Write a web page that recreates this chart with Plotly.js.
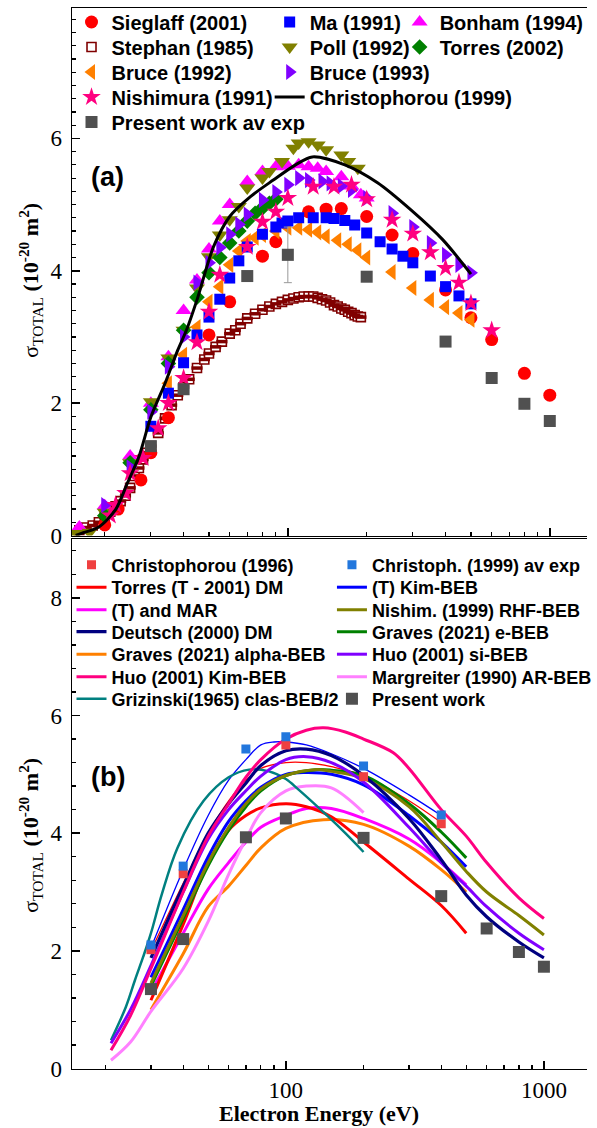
<!DOCTYPE html>
<html><head><meta charset="utf-8">
<script src="https://cdn.plot.ly/plotly-3.0.1.min.js"></script>
<style>html,body{margin:0;padding:0;background:#fff}#chart{width:597px;height:1128px}</style>
</head><body><div id="chart"></div>
<script>
// ================= Panel (a) data =================
const siegE = [20, 22.5, 27.5, 30, 35, 50, 60, 80, 90, 120, 140, 160, 200, 250, 300, 400, 500, 600, 800, 1000];
const siegS = [0.16, 0.40, 0.84, 1.25, 1.78, 3.03, 3.53, 4.22, 4.44, 4.89, 4.93, 4.94, 4.82, 4.54, 4.26, 3.71, 3.29, 2.96, 2.45, 2.12];

const maE = [30, 35, 40, 45, 50, 55, 60, 65, 70, 80, 90, 95, 100, 110, 125, 140, 150, 165, 180, 200, 225, 250, 275, 300, 350, 400, 450, 500];
const maS = [1.65, 2.15, 2.61, 3.03, 3.30, 3.57, 3.89, 4.15, 4.36, 4.55, 4.66, 4.72, 4.75, 4.80, 4.80, 4.80, 4.79, 4.76, 4.69, 4.57, 4.44, 4.33, 4.22, 4.12, 3.92, 3.76, 3.62, 3.50];

const bonhamE = [16, 20, 25, 30, 35, 40, 45, 50, 55, 60, 70, 80, 90, 100, 110, 120, 130, 140, 160, 175, 190, 200];
const bonhamS = [0.13, 0.45, 1.20, 2.00, 2.70, 3.40, 3.86, 4.33, 4.75, 5.00, 5.35, 5.50, 5.57, 5.58, 5.60, 5.57, 5.55, 5.50, 5.42, 5.28, 5.15, 5.10];

const stephanE = [16, 17, 18, 19, 20, 21, 22, 23, 24, 25, 26, 27, 28, 29, 30, 32, 34, 36, 38, 40, 42, 45, 48, 50, 53, 56, 60, 63, 66, 70, 75, 80, 85, 90, 95, 100, 105, 110, 115, 120, 125, 130, 135, 140, 145, 150, 155, 160, 165, 170, 175, 180, 185, 190];
const stephanS = [0.08, 0.12, 0.15, 0.20, 0.28, 0.36, 0.44, 0.52, 0.60, 0.72, 0.90, 1.02, 1.15, 1.25, 1.35, 1.55, 1.77, 1.97, 2.12, 2.24, 2.36, 2.53, 2.66, 2.75, 2.85, 2.93, 3.05, 3.10, 3.20, 3.28, 3.35, 3.41, 3.46, 3.50, 3.53, 3.56, 3.58, 3.60, 3.61, 3.61, 3.61, 3.59, 3.57, 3.55, 3.52, 3.48, 3.46, 3.43, 3.41, 3.38, 3.36, 3.33, 3.31, 3.30];

const pollE = [15.5, 17.5, 20, 25, 30, 35, 40, 45, 50, 55, 60, 65, 70, 80, 85, 95, 105, 110, 120, 130, 140, 160, 170, 185];
const pollS = [0.03, 0.05, 0.35, 1.10, 2.02, 2.68, 3.10, 3.74, 4.21, 4.54, 4.77, 4.97, 5.25, 5.40, 5.50, 5.65, 5.85, 5.93, 5.95, 5.90, 5.83, 5.75, 5.65, 5.55];

const torresE = [20, 25, 30, 35, 40, 45, 50, 55, 60, 65, 70, 75, 80, 85, 90];
const torresS = [0.30, 1.10, 1.90, 2.60, 3.10, 3.60, 3.97, 4.20, 4.42, 4.60, 4.75, 4.87, 4.95, 5.02, 5.08];

const bruce92E = [35, 40, 45, 50, 55, 60, 65, 70, 75, 80, 90, 100, 110, 120, 130, 140, 155, 170, 185, 200, 250, 300, 350, 400, 450, 500];
const bruce92S = [2.30, 2.73, 3.15, 3.53, 3.76, 4.09, 4.30, 4.45, 4.50, 4.54, 4.60, 4.65, 4.65, 4.62, 4.58, 4.52, 4.46, 4.40, 4.31, 4.20, 3.98, 3.74, 3.56, 3.45, 3.36, 3.26];

const bruce93E = [20, 25, 30, 35, 40, 45, 50, 55, 60, 65, 70, 80, 90, 100, 110, 120, 135, 145, 160, 175, 200, 250, 300, 350, 400, 450, 500];
const bruce93S = [0.46, 1.03, 1.87, 2.55, 3.00, 3.82, 4.12, 4.35, 4.55, 4.70, 4.85, 5.07, 5.19, 5.30, 5.40, 5.37, 5.35, 5.32, 5.28, 5.22, 5.10, 4.87, 4.66, 4.42, 4.24, 4.09, 3.97];

const nishE = [21, 22, 24, 25, 28, 32, 35, 40, 45, 50, 55, 70, 80, 90, 100, 125, 150, 175, 200, 250, 300, 350, 400, 450, 500, 600];
const nishS = [0.30, 0.46, 0.64, 0.94, 1.17, 1.62, 2.00, 2.38, 2.92, 3.38, 3.94, 4.36, 4.74, 4.89, 5.10, 5.27, 5.27, 5.30, 5.08, 4.77, 4.56, 4.28, 4.04, 3.82, 3.51, 3.10];

const chr99E = [15.5, 16.5, 19, 22, 24.4, 27, 30, 34, 38, 41, 45, 52, 60, 72, 88, 107, 124, 165, 220, 295, 390, 500];
const chr99S = [0.00, 0.04, 0.13, 0.39, 0.79, 1.19, 1.79, 2.30, 2.80, 3.10, 3.56, 4.36, 4.82, 5.12, 5.37, 5.60, 5.72, 5.60, 5.33, 4.92, 4.47, 3.95];

const presE = [30, 40, 70, 100, 200, 400, 600, 800, 1000];
const presS = [1.35, 2.21, 3.92, 4.24, 3.91, 2.93, 2.38, 1.99, 1.73];
const presErr = [0, 0, 0, 0.42, 0, 0, 0, 0, 0];

// ================= Panel (b) data =================
const chr96E = [30, 40, 100, 200, 400];
const chr96S = [2.02, 3.31, 5.50, 4.96, 4.16];
const chr96FitE = [30, 40, 50, 60, 70, 80, 100, 120, 150, 200, 300, 400];
const chr96FitS = [2.00, 3.15, 4.00, 4.55, 4.90, 5.10, 5.20, 5.20, 5.13, 4.98, 4.55, 4.18];

const chrAvE = [30, 40, 70, 100, 200, 400];
const chrAvS = [2.10, 3.44, 5.43, 5.64, 5.14, 4.31];
const chrAvFitE = [30, 40, 50, 60, 70, 80, 90, 100, 120, 150, 200, 300, 400];
const chrAvFitS = [2.05, 3.38, 4.30, 4.90, 5.25, 5.50, 5.55, 5.55, 5.50, 5.35, 5.10, 4.65, 4.30];

const torresDmE = [30, 40, 50, 60, 70, 80, 100, 120, 150, 200, 300, 400, 500];
const torresDmS = [1.16, 2.45, 3.50, 4.05, 4.30, 4.43, 4.50, 4.45, 4.28, 3.85, 3.22, 2.77, 2.30];

const kimBebE = [30, 40, 50, 60, 70, 80, 100, 120, 150, 200, 300, 400, 500];
const kimBebS = [1.55, 2.70, 3.60, 4.20, 4.55, 4.78, 5.00, 5.03, 5.00, 4.82, 4.30, 3.85, 3.43];

const marE = [30, 40, 50, 60, 70, 80, 100, 120, 150, 200, 300, 400, 500];
const marS = [1.30, 2.30, 3.05, 3.50, 3.85, 4.10, 4.30, 4.42, 4.42, 4.25, 3.90, 3.50, 3.12];

const nishRhfE = [30, 40, 50, 60, 70, 80, 100, 130, 150, 200, 300, 400, 500, 600, 800, 1000];
const nishRhfS = [1.45, 2.60, 3.50, 4.10, 4.50, 4.75, 4.98, 5.08, 5.05, 4.93, 4.45, 3.85, 3.35, 3.00, 2.60, 2.27];

const deutschE = [30, 40, 50, 60, 70, 80, 100, 120, 150, 200, 300, 400, 500, 600, 800, 1000];
const deutschS = [1.88, 3.10, 4.00, 4.50, 4.85, 5.15, 5.40, 5.43, 5.32, 4.98, 4.25, 3.55, 2.95, 2.58, 2.15, 1.88];

const gravesEE = [30, 40, 50, 60, 70, 80, 100, 130, 150, 200, 300, 400, 500];
const gravesES = [1.40, 2.55, 3.45, 4.05, 4.45, 4.72, 4.98, 5.08, 5.07, 4.98, 4.50, 4.02, 3.58];

const gravesAE = [30, 40, 50, 60, 70, 80, 100, 140, 200, 300, 400, 500];
const gravesAS = [1.00, 1.95, 2.75, 3.10, 3.45, 3.75, 4.08, 4.23, 4.15, 3.78, 3.38, 3.00];

const huoSiE = [21, 25, 30, 40, 50, 60, 70, 80, 100, 120, 150, 200, 300, 400, 500, 600, 800, 1000];
const huoSiS = [0.43, 1.00, 1.75, 3.00, 3.90, 4.40, 4.72, 4.97, 5.25, 5.30, 5.20, 4.87, 4.10, 3.50, 3.10, 2.75, 2.30, 2.02];

const huoKimE = [21, 25, 30, 40, 50, 60, 70, 80, 100, 120, 140, 170, 200, 260, 300, 400, 500, 600, 800, 1000];
const huoKimS = [0.31, 0.90, 1.70, 3.00, 3.95, 4.50, 4.95, 5.25, 5.60, 5.75, 5.79, 5.72, 5.60, 5.37, 5.10, 4.40, 3.95, 3.50, 2.90, 2.55];

const margE = [21, 25, 30, 40, 50, 60, 70, 80, 100, 120, 150, 200];
const margS = [0.14, 0.45, 0.97, 1.70, 2.50, 3.30, 3.90, 4.35, 4.72, 4.80, 4.77, 4.35];

const grizE = [21, 24, 26, 28, 30, 33, 38, 48, 60, 72, 86, 100, 112, 146, 170, 200];
const grizS = [0.48, 1.05, 1.50, 1.90, 2.30, 2.95, 3.75, 4.55, 4.95, 5.08, 5.05, 4.92, 4.74, 4.28, 4.00, 3.68];

const presBE = [30, 40, 70, 100, 200, 400, 600, 800, 1000];
const presBS = [1.35, 2.20, 3.93, 4.25, 3.92, 2.93, 2.38, 1.98, 1.73];

// ================= geometry helpers =================
const W = 597, H = 1128, ML = 72;
const px2x = p => (p - ML) / (W - ML);
const px2y = p => (H - p) / H;

const traces = [];
const legends = {};
let legendCount = 0;
function legendFor(textX, rowY, size) {
  legendCount++;
  const id = legendCount === 1 ? 'legend' : 'legend' + legendCount;
  legends[id] = {
    x: px2x(textX - 40), xanchor: 'left', xref: 'paper',
    y: px2y(rowY), yanchor: 'middle', yref: 'paper',
    bgcolor: 'rgba(0,0,0,0)', borderwidth: 0,
    font: {family: 'Liberation Sans, Arial, sans-serif', size: size, color: '#000', weight: 'bold'}
  };
  return id;
}

// ----- Panel (a) traces -----
const A = {xaxis: 'x', yaxis: 'y'};
const topFont = 20;
const C1 = 111.5, C2 = 313.5, C3 = 446;
const R = [22, 47, 72, 97, 122];

function mk(name, E, S, marker, lx, ly, extra) {
  const t = Object.assign({type: 'scatter', mode: 'markers', name: name, x: E, y: S,
    marker: marker, legend: legendFor(lx, ly, topFont)}, A, extra || {});
  traces.push(t);
}
mk('Stephan (1985)', stephanE, stephanS, {symbol: 'square', size: 9, color: '#ffffff', line: {color: '#800000', width: 1.6}}, C1, R[1]);
// dark upper band of the half-filled Stephan symbols (same points, no legend entry)
traces.push(Object.assign({type: 'scatter', mode: 'markers', x: stephanE, y: stephanS, showlegend: false,
  marker: {symbol: 'line-ew', size: 8, line: {color: '#800000', width: 3.5}}}, A));
mk('Sieglaff (2001)', siegE, siegS, {symbol: 'circle', size: 13, color: '#ff0000'}, C1, R[0]);
mk('Bonham (1994)', bonhamE, bonhamS, {symbol: 'triangle-up', size: 14, color: '#ff00ff'}, C3, R[0]);
mk('Poll (1992)', pollE, pollS, {symbol: 'triangle-down', size: 14, color: '#808000'}, C2, R[1]);
mk('Torres (2002)', torresE, torresS, {symbol: 'diamond', size: 12, color: '#008000'}, C3, R[1]);
mk('Bruce (1992)', bruce92E, bruce92S, {symbol: 'triangle-left', size: 14, color: '#ff8000'}, C1, R[2]);
mk('Ma (1991)', maE, maS, {symbol: 'square', size: 11, color: '#0000ff'}, C2, R[0]);
mk('Bruce (1993)', bruce93E, bruce93S, {symbol: 'triangle-right', size: 14, color: '#8000ff'}, C2, R[2]);
mk('Nishimura (1991)', nishE, nishS, {symbol: 'star', size: 14, color: '#ff0080'}, C1, R[3]);
traces.push(Object.assign({type: 'scatter', mode: 'lines', name: 'Christophorou (1999)', x: chr99E, y: chr99S,
  line: {color: '#000000', width: 3, shape: 'spline', smoothing: 0.8}, legend: legendFor(C2, R[3], topFont)}, A));
mk('Present work av exp', presE, presS, {symbol: 'square', size: 12, color: '#505050'}, C1, R[4],
  {error_y: {type: 'data', array: presErr, visible: true, color: '#999999', thickness: 1, width: 4}});

// ----- Panel (b) traces -----
const B = {xaxis: 'x2', yaxis: 'y2'};
const botFont = 18;
const D1 = 111.5, D2 = 377;
const RB = [565, 587.5, 610, 632, 654.5, 677, 699];

function ln(name, E, S, color, width, lx, ly) {
  const t = Object.assign({type: 'scatter', mode: 'lines', name: name, x: E, y: S,
    line: {color: color, width: width, shape: 'spline', smoothing: 1}}, B);
  if (lx) t.legend = legendFor(lx, ly, botFont); else t.showlegend = false;
  traces.push(t);
}
ln('Christophorou (1996) fit', chr96FitE, chr96FitS, '#ff0000', 1.3);
ln('Christoph. (1999) fit', chrAvFitE, chrAvFitS, '#0000ff', 1.3);
ln('Graves (2021) alpha-BEB', gravesAE, gravesAS, '#ff8000', 3, D1, RB[4]);
ln('(T) and MAR', marE, marS, '#ff00ff', 3, D1, RB[2]);
ln('Torres (T - 2001) DM', torresDmE, torresDmS, '#ff0000', 3, D1, RB[1]);
ln('Margreiter (1990) AR-BEB', margE, margS, '#ff80ff', 3, D2, RB[5]);
ln('Grizinski(1965) clas-BEB/2', grizE, grizS, '#008080', 2.5, D1, RB[6]);
ln('(T) Kim-BEB', kimBebE, kimBebS, '#0000ff', 3, D2, RB[1]);
ln('Graves (2021) e-BEB', gravesEE, gravesES, '#008000', 3, D2, RB[3]);
ln('Nishim. (1999) RHF-BEB', nishRhfE, nishRhfS, '#808000', 3, D2, RB[2]);
ln('Huo (2001) si-BEB', huoSiE, huoSiS, '#8000ff', 3, D2, RB[4]);
ln('Deutsch (2000) DM', deutschE, deutschS, '#000080', 3.2, D1, RB[3]);
ln('Huo (2001) Kim-BEB', huoKimE, huoKimS, '#ff0080', 3, D1, RB[5]);
traces.push(Object.assign({type: 'scatter', mode: 'markers', name: 'Christophorou (1996)', x: chr96E, y: chr96S,
  marker: {symbol: 'square', size: 9, color: '#ef4040'}, legend: legendFor(D1, RB[0], botFont)}, B));
traces.push(Object.assign({type: 'scatter', mode: 'markers', name: 'Christoph. (1999) av exp', x: chrAvE, y: chrAvS,
  marker: {symbol: 'square', size: 9, color: '#2277dd'}, legend: legendFor(D2, RB[0], botFont)}, B));
traces.push(Object.assign({type: 'scatter', mode: 'markers', name: 'Present work', x: presBE, y: presBS,
  marker: {symbol: 'square', size: 12, color: '#505050'}, legend: legendFor(D2, RB[6], botFont)}, B));

// ================= axes =================
const tickFont = {family: 'Liberation Serif, Times New Roman, serif', size: 23, color: '#000'};
function xAx(range, domainAnchor, labels) {
  return {type: 'log', range: range, domain: [0, 1], anchor: domainAnchor,
    showline: true, linecolor: '#000', linewidth: 1.5, mirror: true,
    ticks: 'inside', ticklen: 8, tickwidth: 1.5, tickcolor: '#000',
    tickvals: [10, 100, 1000], ticktext: ['10', '100', '1000'],
    showticklabels: labels, tickfont: tickFont, ticklabelstandoff: 0,
    minor: {ticks: 'inside', dtick: 'D1', ticklen: 4, tickwidth: 1.2, tickcolor: '#000', showgrid: false},
    showgrid: false, zeroline: false};
}
function yAx(range, domain, anchor, vals, minor) {
  return {range: range, domain: domain, anchor: anchor,
    showline: true, linecolor: '#000', linewidth: 1.5, mirror: false,
    ticks: 'inside', ticklen: 8, tickwidth: 1.5, tickcolor: '#000',
    tickvals: vals, tickfont: tickFont, ticklabelstandoff: 4,
    minor: {ticks: 'inside', dtick: minor, ticklen: 4, tickwidth: 1.2, tickcolor: '#000', showgrid: false},
    showgrid: false, zeroline: false};
}

const yTitle = 'σ<sub>TOTAL</sub> <b>(10<sup>-20</sup> m<sup>2</sup>)</b>';
const titleFont = {family: 'Liberation Serif, Times New Roman, serif', size: 22, color: '#000'};
const layout = Object.assign({
  width: W, height: H,
  margin: {l: ML, r: 0, t: 0, b: 0},
  paper_bgcolor: '#fff', plot_bgcolor: 'rgba(0,0,0,0)',
  showlegend: true,
  xaxis: xAx([Math.log10(15.0), 3.142], 'y', false),
  yaxis: yAx([0, 7.97], [px2y(535.5), px2y(8)], 'x', [0, 2, 4, 6], 0.2),
  xaxis2: xAx([Math.log10(14.83), 3.167], 'y2', true),
  yaxis2: yAx([0, 9.0], [px2y(1068.5), px2y(539)], 'x2', [0, 2, 4, 6, 8], 0.4),
  annotations: [
    {text: yTitle, x: px2x(29), y: px2y(280), xref: 'paper', yref: 'paper', textangle: -90,
     showarrow: false, xanchor: 'center', yanchor: 'middle', font: titleFont},
    {text: yTitle, x: px2x(29), y: px2y(835), xref: 'paper', yref: 'paper', textangle: -90,
     showarrow: false, xanchor: 'center', yanchor: 'middle', font: titleFont},
    {text: '<b>Electron Energy (eV)</b>', x: px2x(324), y: px2y(1113), xref: 'paper', yref: 'paper',
     showarrow: false, xanchor: 'center', yanchor: 'middle',
     font: {family: 'Liberation Serif, Times New Roman, serif', size: 22, color: '#000'}},
    {text: '<b>(a)</b>', x: px2x(108), y: px2y(177), xref: 'paper', yref: 'paper', showarrow: false,
     xanchor: 'center', yanchor: 'middle', font: {family: 'Liberation Sans, Arial, sans-serif', size: 27, color: '#000'}},
    {text: '<b>(b)</b>', x: px2x(109), y: px2y(777), xref: 'paper', yref: 'paper', showarrow: false,
     xanchor: 'center', yanchor: 'middle', font: {family: 'Liberation Sans, Arial, sans-serif', size: 27, color: '#000'}}
  ]
}, legends);

Plotly.newPlot('chart', traces, layout, {displayModeBar: false, staticPlot: true});
</script>
</body></html>
